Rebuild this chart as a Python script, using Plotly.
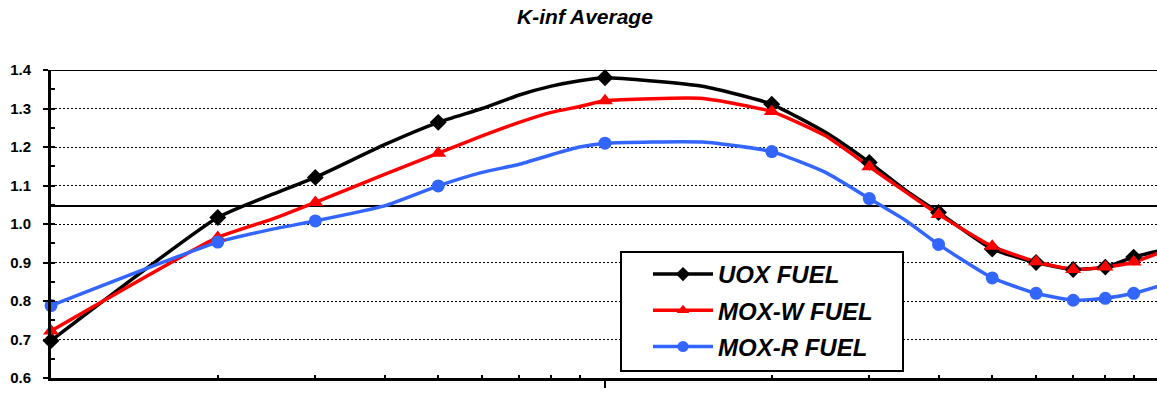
import plotly.graph_objects as go

# burnup-like x positions (log axis)
x_all = [1, 2, 2.5, 3, 4, 5, 6, 7, 8, 9, 10, 15, 20, 25, 30, 35, 40, 50, 60, 70, 80, 90, 100]
marker_x = [1, 2, 3, 5, 10, 20, 30, 40, 50, 60, 70, 80, 90, 100]

uox = [0.697, 1.017, 1.076, 1.121, 1.206, 1.264, 1.300, 1.335, 1.358, 1.372, 1.380, 1.358, 1.311,
       1.238, 1.160, 1.086, 1.030, 0.935, 0.900, 0.882, 0.888, 0.914, 0.930]
moxw = [0.722, 0.965, 1.012, 1.056, 1.129, 1.184, 1.229, 1.264, 1.290, 1.305, 1.320, 1.326, 1.292,
        1.229, 1.149, 1.082, 1.025, 0.942, 0.902, 0.882, 0.888, 0.901, 0.925]
moxr = [0.788, 0.953, 0.986, 1.008, 1.047, 1.099, 1.134, 1.155, 1.180, 1.200, 1.210, 1.213, 1.188,
        1.134, 1.066, 1.008, 0.947, 0.860, 0.820, 0.802, 0.807, 0.820, 0.839]

names = ["UOX FUEL", "MOX-W FUEL", "MOX-R FUEL"]
colors = ["#000000", "#FF0000", "#3366FF"]
symbols = ["diamond", "triangle-up", "circle"]
msizes = [13, 14, 13]
series = [uox, moxw, moxr]
ref_level = 1.047

y_ticks = [0.6, 0.7, 0.8, 0.9, 1.0, 1.1, 1.2, 1.3, 1.4]
x_major = [10]
x_minor = [2, 3, 4, 5, 6, 7, 8, 9, 20, 30, 40, 50, 60, 70, 80, 90]

fig = go.Figure()
for name, col, sym, ms, ys in zip(names, colors, symbols, msizes, series):
    fig.add_trace(go.Scatter(x=x_all, y=ys, mode="lines", line=dict(color=col, width=3.5, shape="spline", smoothing=0.5),
                             showlegend=False, hoverinfo="skip", cliponaxis=False))
for name, col, sym, ms, ys in zip(names, colors, symbols, msizes, series):
    mx = [xv for xv in x_all if xv in marker_x]
    my = [yv for xv, yv in zip(x_all, ys) if xv in marker_x]
    fig.add_trace(go.Scatter(x=mx, y=my, mode="markers", marker=dict(color=col, symbol=sym, size=ms),
                             showlegend=False, cliponaxis=False))
for name, col, sym, ms, ys in zip(names, colors, symbols, msizes, series):
    fig.add_trace(go.Scatter(x=[None], y=[None], mode="lines+markers", name=name, legendgroup=name,
                             line=dict(color=col, width=3.5), marker=dict(color=col, symbol=sym, size=11)))

# dummy traces for overlay tick axes
fig.add_trace(go.Scatter(x=[None], y=[None], xaxis="x2", yaxis="y", showlegend=False))
fig.add_trace(go.Scatter(x=[None], y=[None], xaxis="x", yaxis="y2", showlegend=False))

L, T, W, H = 51, 70, 1106, 308


def px_x(p):
    return (p - L) / W


def px_y(p):
    return (T + H - p) / H


xr = [0, 2 * 1106 / 1108]
fig.update_layout(
    width=1157, height=393,
    margin=dict(l=51, r=0, t=70, b=15),
    paper_bgcolor="white", plot_bgcolor="white",
    title=dict(text="K-inf Average", x=585 / 1157, xref="container", xanchor="center",
               y=1 - 17 / 393, yref="container", yanchor="middle",
               font=dict(family="Liberation Sans, Arial", size=21, color="black", weight="bold", style="italic")),
    xaxis=dict(type="log", range=xr, showgrid=False, zeroline=False, showline=True, linewidth=3, linecolor="black",
               tickmode="array", tickvals=x_major, ticks="outside", ticklen=7, tickwidth=2, tickcolor="black",
               showticklabels=False),
    xaxis2=dict(type="log", range=xr, overlaying="x", anchor="y", showgrid=False, zeroline=False, showline=False,
                tickmode="array", tickvals=x_minor, ticks="inside", ticklen=3, tickwidth=2, tickcolor="black",
                showticklabels=False),
    yaxis=dict(range=[0.6, 1.4], tickmode="array", tickvals=y_ticks, tickformat=".1f",
               showgrid=True, gridcolor="black", gridwidth=1, griddash="2px,2px", zeroline=False,
               showline=True, linewidth=3, linecolor="black", ticks="outside", ticklen=5, tickwidth=2,
               tickcolor="black", ticklabelstandoff=9,
               tickfont=dict(family="Liberation Sans, Arial", size=15, color="black", weight="bold")),
    yaxis2=dict(range=[0.6, 1.4], overlaying="y", anchor="x", side="left", showgrid=False, zeroline=False,
                showline=False, tickmode="linear", tick0=0.6, dtick=0.05, ticks="inside", ticklen=4, tickwidth=2,
                tickcolor="black", showticklabels=False),
    legend=dict(x=px_x(648), y=px_y(252), xanchor="left", yanchor="top",
                bgcolor="rgba(0,0,0,0)", borderwidth=0, tracegroupgap=2, itemwidth=60,
                font=dict(family="Liberation Sans, Arial", size=24, color="black", weight="bold", style="italic")),
    shapes=[
        dict(type="line", xref="paper", yref="y", x0=0, x1=1, y0=ref_level, y1=ref_level,
             line=dict(color="black", width=2), layer="below"),
        dict(type="line", xref="paper", yref="y", x0=0, x1=1, y0=1.4, y1=1.4,
             line=dict(color="black", width=2), layer="below"),
        dict(type="rect", xref="paper", yref="paper", x0=px_x(621), x1=px_x(903), y0=px_y(371), y1=px_y(252),
             line=dict(color="black", width=2), fillcolor="white", layer="above"),
    ],
)

fig.write_html("out.html")
